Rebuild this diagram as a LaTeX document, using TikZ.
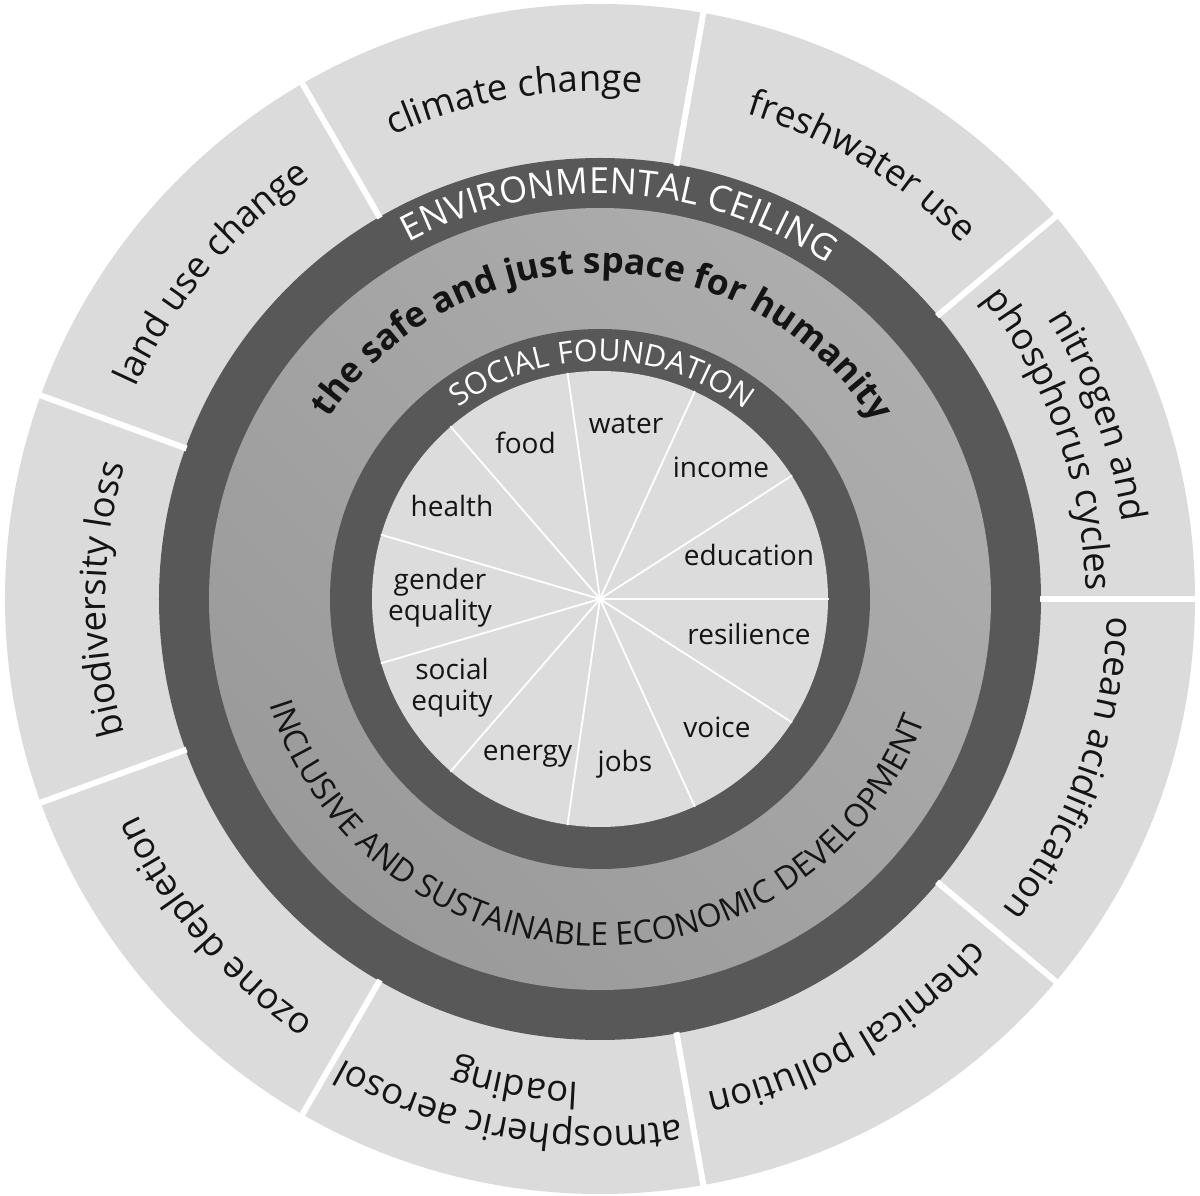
\documentclass[tikz,border=0pt]{standalone}
\usepackage{fontspec}
\setmainfont{Open Sans}
\usetikzlibrary{decorations.text}
\definecolor{outerc}{HTML}{DBDBDB}
\definecolor{darkc}{HTML}{585858}
\definecolor{midA}{HTML}{9A9A9A}
\definecolor{midB}{HTML}{ADADAD}
\definecolor{innerc}{HTML}{DCDCDC}
\definecolor{txt}{HTML}{141414}
\newcommand\olab{\fontsize{36.5}{40}\selectfont}
\newcommand\envlab{\fontsize{36}{40}\selectfont}
\newcommand\soclab{\fontsize{30.3}{34}\selectfont}
\newcommand\inclab{\fontsize{32}{34}\selectfont}
\newcommand\safelab{\bfseries\fontsize{35.4}{38}\selectfont}
% clockwise arc text (tops outward): [colour]{centre angle}{baseline radius}{format}{text}
\newcommand\cwlabel[5][txt]{\path[decorate,decoration={text along path,text align=center,text color=#1,text={|#4|#5}}] ({#2+80}:#3) arc[start angle={#2+80},end angle={#2-80},radius=#3];}
% counter-clockwise arc text (tops inward)
\newcommand\ccwlabel[5][txt]{\path[decorate,decoration={text along path,text align=center,text color=#1,text={|#4|#5}}] ({#2-85}:#3) arc[start angle={#2-85},end angle={#2+85},radius=#3];}
\begin{document}
\begin{tikzpicture}[x=1pt,y=1pt,
  inlab/.style={font=\fontsize{28}{31}\selectfont, text=txt, inner sep=0pt, align=center},
  sep/.style={white, line width=6},
  spoke/.style={white, line width=1.8}]
\useasboundingbox (-600,-597) rectangle (600,599);
% rings
\fill[outerc] (0,0) circle (595);
\fill[darkc] (0,0) circle (441);
\shade[top color=midB, bottom color=midA, shading angle=-45] (0,0) circle (391);
\fill[darkc] (0,0) circle (270);
\fill[innerc] (0,0) circle (228);
% separators of the outer ring
\foreach \a in {0,40,...,320} \draw[sep] (\a:440) -- (\a:597);
% spokes of the inner circle
\foreach \i in {0,...,10} \draw[spoke] (0,0) -- ({\i*360/11}:228.5);
% outer labels
\cwlabel{99.7}{508}{\olab}{climate change}
\cwlabel{58.8}{507}{\olab}{freshwater use}
\cwlabel{20.2}{528}{\olab}{nitrogen and}
\cwlabel{19.5}{486}{\olab}{phosphorus cycles}
\cwlabel{-19.8}{508}{\olab}{ocean acidification}
\cwlabel{-60.1}{505}{\olab}{chemical pollution}
\cwlabel{259.8}{527}{\olab}{atmospheric aerosol}
\cwlabel{260}{484}{\olab}{loading}
\cwlabel{220.4}{510}{\olab}{ozone depletion}
\cwlabel{180}{494}{\olab}{biodiversity loss}
\cwlabel{140}{510}{\olab}{land use change}
% ring titles
\cwlabel[white]{87}{405}{\envlab}{ENVIRONMENTAL CEILING}
\cwlabel{89.5}{326}{\safelab}{the safe and just space for humanity}
\cwlabel[white]{89.5}{238}{\soclab}{SOCIAL FOUNDATION}
\ccwlabel{268.7}{347}{\inclab}{INCLUSIVE AND SUSTAINABLE ECONOMIC DEVELOPMENT}
% inner labels
\node[inlab, anchor=base] (food) at (-74.5,145) {food};
\node[inlab, anchor=base] (water) at (26,165) {water};
\node[inlab, anchor=base] (income) at (121,121) {income};
\node[inlab, anchor=base] (education) at (149,33) {education};
\node[inlab, anchor=base] (resilience) at (149,-46) {resilience};
\node[inlab, anchor=base] (voice) at (117,-139) {voice};
\node[inlab, anchor=base] (jobs) at (25,-173) {jobs};
\node[inlab, anchor=base] (energy) at (-72.5,-162) {energy};
\node[inlab, anchor=base] (health) at (-148,82) {health};
\node[inlab] (gender) at (-160,0.8) {gender\\equality};
\node[inlab] (social) at (-148,-89.2) {social\\equity};
\end{tikzpicture}
\end{document}
